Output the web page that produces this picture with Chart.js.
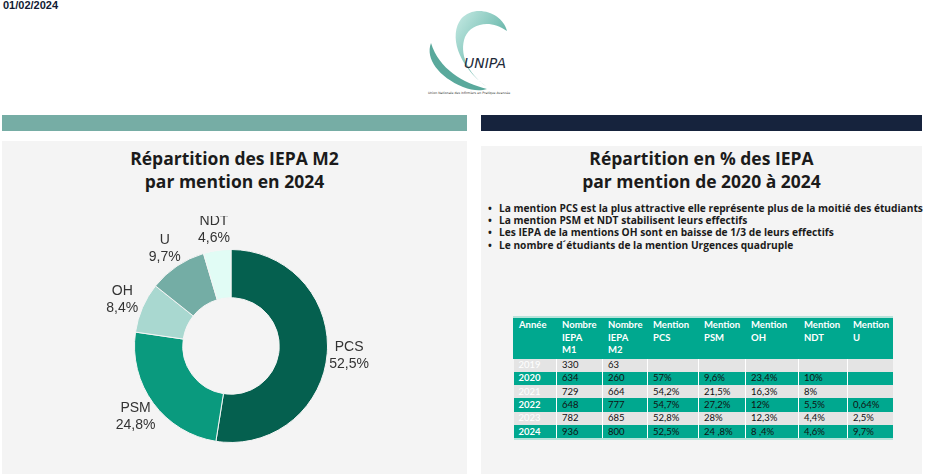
<!DOCTYPE html>
<html>
<head>
<meta charset="utf-8">
<script src="https://cdn.jsdelivr.net/npm/chart.js@4.4.1/dist/chart.umd.min.js"></script>
<style>
  body { margin: 0; background: #fff; width: 929px; height: 474px; overflow: hidden; position: relative; font-family: "Lato", "Open Sans", sans-serif; }
  .date { position: absolute; left: 3px; top: -1px; font: bold 11px "Liberation Sans", Arial, sans-serif; color: #111a33; }
  .bar { position: absolute; top: 115px; height: 16px; }
  .panel { position: absolute; background: #f4f4f4; }
  h2 { position: absolute; margin: 0; font: bold 17.5px "Open Sans", sans-serif; color: #1b1b1b; text-align: center; line-height: 23px; }
  ul { position: absolute; left: 488px; top: 202px; margin: 0; padding: 0; list-style: none; font: bold 10.2px "Open Sans", sans-serif; color: #1b1b1b; line-height: 12.2px; white-space: nowrap; }
  ul li::before { content: "\2022"; display: inline-block; width: 11px; }
  table { position: absolute; left: 513px; top: 316px; width: 380px; table-layout: fixed; border-collapse: collapse; font: 9.5px "Lato", "Liberation Sans", sans-serif; border-top: 2px solid #b6e3da; border-bottom: 2px solid #b6e3da; }
  th { background: #00a88f; color: #fff; font-weight: bold; text-align: left; vertical-align: top; padding: 1px 2px 2px 5px; line-height: 12.5px; border-left: 1px solid #00a88f; overflow: hidden; }
  td { padding: 0 2px 0 5px; height: 13.3px; line-height: 12px; color: #111; border-left: 1px solid #fff; white-space: nowrap; overflow: hidden; }
  tr.teal td { background: #00a88f; }
  tr.gray td { background: #e4e4e4; }
  td.yr { font-weight: bold; color: #fff; border-left: none; }
  tr.gray td.yr { font-weight: normal; }
  #chartBox { position: absolute; left: 81px; top: 216px; width: 300px; height: 260px; }
</style>
</head>
<body>
<div class="date">01/02/2024</div>

<svg style="position:absolute;left:415px;top:3px" width="120" height="100" viewBox="0 0 120 100">
  <defs>
    <linearGradient id="g1" x1="0" y1="0" x2="1" y2="1">
      <stop offset="0" stop-color="#c8ebe5"/>
      <stop offset="0.5" stop-color="#7ec3b8"/>
      <stop offset="1" stop-color="#2f8a7d"/>
    </linearGradient>
  </defs>
  <path d="M92 28 C 88 10, 60 0, 46 16 C 34 32, 42 62, 72 84 C 52 70, 44 50, 50 34 C 56 20, 76 16, 92 28 Z" fill="url(#g1)"/>
  <path d="M16 40 C 10 56, 24 74, 48 84 C 58 88, 66 88, 72 86 C 48 80, 24 66, 16 40 Z" fill="#5aa99c"/>
  <text x="49" y="65" font-family="DejaVu Sans" font-style="italic" font-size="14" fill="#1e2a3a">UNIPA</text>
  <text x="13" y="91" font-family="DejaVu Sans" font-size="3.2" fill="#333">Union Nationale des Infirmiers en Pratique Avancée</text>
</svg>

<div class="bar" style="left:2px;width:465px;background:#76ada5"></div>
<div class="bar" style="left:481px;width:441px;background:#16233d"></div>

<div class="panel" style="left:2px;top:141px;width:465px;height:333px"></div>
<div class="panel" style="left:481px;top:146px;width:441px;height:328px"></div>

<h2 style="left:2px;top:147px;width:465px">Répartition des IEPA M2<br>par mention en 2024</h2>
<h2 style="left:481px;top:147px;width:441px">Répartition en % des IEPA<br>par mention de 2020 à 2024</h2>

<ul id="notes"></ul>

<div id="chartBox"><canvas id="donut"></canvas></div>

<table id="tbl"></table>

<script>
// Doughnut data (2024)
const mentions = ["PCS", "PSM", "OH", "U", "NDT"];
const parts2024 = [52.5, 24.8, 8.4, 9.7, 4.6];
const partLabels = ["52,5%", "24,8%", "8,4%", "9,7%", "4,6%"];
const mentionColors = ["#05604f", "#0a9a7e", "#a9d8d0", "#74ada5", "#e1fcf5"];

// Table data
const headers = ["Année", "Nombre<br>IEPA<br>M1", "Nombre<br>IEPA<br>M2", "Mention<br>PCS", "Mention<br>PSM", "Mention<br>OH", "Mention<br>NDT", "Mention<br>U"];
const colWidths = [43, 46, 45, 51, 47, 53, 49, 46];
const years = ["2019", "2020", "2021", "2022", "2023", "2024"];
const nbM1 = ["330", "634", "729", "648", "782", "936"];
const nbM2 = ["63", "260", "664", "777", "685", "800"];
const pctPCS = ["", "57%", "54,2%", "54,7%", "52,8%", "52,5%"];
const pctPSM = ["", "9,6%", "21,5%", "27,2%", "28%", "24 ,8%"];
const pctOH = ["", "23,4%", "16,3%", "12%", "12,3%", "8 ,4%"];
const pctNDT = ["", "10%", "8%", "5,5%", "4,4%", "4,6%"];
const pctU = ["", "", "", "0,64%", "2,5%", "9,7%"];

const notes = [
    "La mention PCS est la plus attractive elle représente plus de la moitié des étudiants",
    "La mention PSM et NDT stabilisent leurs effectifs",
    "Les IEPA de la mentions OH sont en baisse de 1/3 de leurs effectifs",
    "Le nombre d´étudiants de la mention Urgences quadruple"
];

// bullet list
const ul = document.getElementById('notes');
notes.forEach(n => {
    const li = document.createElement('li');
    li.textContent = n;
    ul.appendChild(li);
});

// table
function buildTable() {
    const tbl = document.getElementById('tbl');
    const head = tbl.insertRow();
    headers.forEach((h, i) => {
        const th = document.createElement('th');
        th.innerHTML = h;
        th.style.width = (colWidths[i] - 8) + 'px';
        head.appendChild(th);
    });
    years.forEach((y, r) => {
        const row = tbl.insertRow();
        row.className = (r % 2 === 0) ? 'gray' : 'teal';
        [y, nbM1[r], nbM2[r], pctPCS[r], pctPSM[r], pctOH[r], pctNDT[r], pctU[r]].forEach((v, i) => {
            const cell = row.insertCell();
            cell.textContent = v;
            if (i === 0) cell.className = 'yr';
        });
    });
}
buildTable();

// labels outside the arcs
const outsideLabels = {
    id: 'outsideLabels',
    afterDatasetsDraw(chart) {
        const ctx = chart.ctx;
        const meta = chart.getDatasetMeta(0);
        ctx.save();
        ctx.font = '14px "Liberation Sans", Arial, sans-serif';
        ctx.fillStyle = '#333';
        ctx.textAlign = 'center';
        ctx.textBaseline = 'middle';
        meta.data.forEach((arc, i) => {
            const p = arc.getProps(['x', 'y', 'startAngle', 'endAngle', 'outerRadius'], true);
            const a = (p.startAngle + p.endAngle) / 2;
            const r = p.outerRadius + 22;
            const x = p.x + Math.cos(a) * r;
            const y = p.y + Math.sin(a) * r;
            ctx.fillText(mentions[i], x, y - 8);
            ctx.fillText(partLabels[i], x, y + 9);
        });
        ctx.restore();
    }
};

new Chart(document.getElementById('donut'), {
    type: 'doughnut',
    data: {
        labels: mentions,
        datasets: [{
            data: parts2024,
            backgroundColor: mentionColors,
            borderColor: '#f4f4f4',
            borderWidth: 1
        }]
    },
    options: {
        responsive: true,
        maintainAspectRatio: false,
        animation: false,
        cutout: '50%',
        layout: { padding: { top: 33, bottom: 33, left: 0, right: 0 } },
        plugins: {
            legend: { display: false },
            tooltip: { enabled: false }
        }
    },
    plugins: [outsideLabels]
});
</script>
</body>
</html>
